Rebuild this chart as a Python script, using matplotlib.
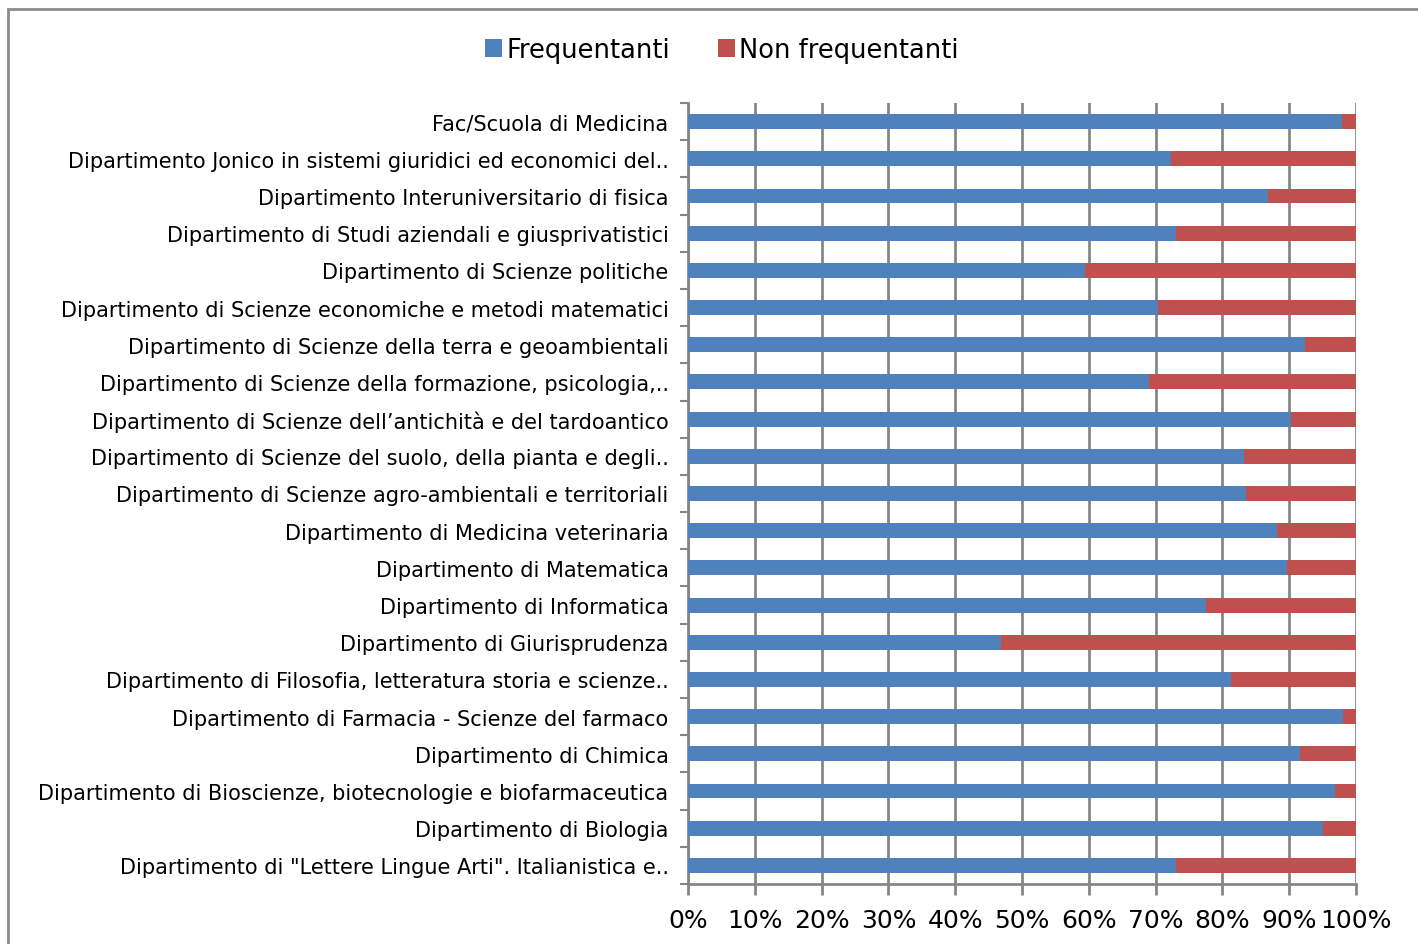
import matplotlib
matplotlib.use("Agg")
import matplotlib.pyplot as plt
from matplotlib.patches import Rectangle
from matplotlib.ticker import FixedLocator, PercentFormatter
import numpy as np

plt.rcParams['font.family'] = ['DejaVu Sans']

# categories from bottom to top (as drawn)
categories = [
    'Dipartimento di "Lettere Lingue Arti". Italianistica e..',
    'Dipartimento di Biologia',
    'Dipartimento di Bioscienze, biotecnologie e biofarmaceutica',
    'Dipartimento di Chimica',
    'Dipartimento di Farmacia - Scienze del farmaco',
    'Dipartimento di Filosofia, letteratura storia e scienze..',
    'Dipartimento di Giurisprudenza',
    'Dipartimento di Informatica',
    'Dipartimento di Matematica',
    'Dipartimento di Medicina veterinaria',
    'Dipartimento di Scienze agro-ambientali e territoriali',
    'Dipartimento di Scienze del suolo, della pianta e degli..',
    "Dipartimento di Scienze dell\u2019antichità e del tardoantico",
    'Dipartimento di Scienze della formazione, psicologia,..',
    'Dipartimento di Scienze della terra e geoambientali',
    'Dipartimento di Scienze economiche e metodi matematici',
    'Dipartimento di Scienze politiche',
    'Dipartimento di Studi aziendali e giusprivatistici',
    'Dipartimento Interuniversitario di fisica',
    'Dipartimento Jonico in sistemi giuridici ed economici del..',
    'Fac/Scuola di Medicina',
]

frequentanti = [73.0, 95.1, 96.8, 91.6, 98.1, 81.3, 46.8, 77.6, 89.7, 88.2,
                83.6, 83.2, 90.3, 69.0, 92.4, 70.3, 59.5, 73.0, 86.8, 72.3, 97.9]
non_frequentanti = [100 - v for v in frequentanti]

blue = '#4F81BD'
red = '#C0504D'
grid_col = '#868686'

fig = plt.figure(figsize=(14.18, 9.45), dpi=100)
fig.patches.append(Rectangle((8 / 1418, -0.1), 1.2, 1 - 10 / 945 + 0.1,
                             transform=fig.transFigure, fill=False,
                             edgecolor='#8C8C8C', linewidth=2))

ax = fig.add_axes([688 / 1418, 60 / 945, 668 / 1418, 781 / 945])
y = np.arange(len(categories))
ax.barh(y, frequentanti, height=0.4, color=blue, label='Frequentanti', zorder=3)
ax.barh(y, non_frequentanti, height=0.4, left=frequentanti, color=red,
        label='Non frequentanti', zorder=3)

ax.set_xlim(0, 100)
ax.set_ylim(-0.5, len(categories) - 0.5)
ax.xaxis.set_major_locator(FixedLocator(np.arange(0, 101, 10)))
ax.xaxis.set_major_formatter(PercentFormatter(decimals=0))
ax.grid(axis='x', color=grid_col, linewidth=2, zorder=0)
ax.set_axisbelow(True)

ax.set_yticks(y)
ax.set_yticklabels(categories, fontsize=15)
ax.yaxis.set_minor_locator(FixedLocator(np.arange(-0.5, len(categories), 1)))
ax.tick_params(axis='y', which='major', length=0, pad=14)
ax.tick_params(axis='y', which='minor', length=6, width=1.5, color=grid_col)
ax.tick_params(axis='x', length=8, width=2, color=grid_col, labelsize=18, pad=9)

for s in ['top', 'right']:
    ax.spines[s].set_visible(False)
for s in ['left', 'bottom']:
    ax.spines[s].set_color(grid_col)
    ax.spines[s].set_linewidth(2)

fig.legend(loc='center', bbox_to_anchor=(722 / 1418, 1 - 51 / 945), ncol=2,
           frameon=False, fontsize=18.5, handlelength=0.65, handleheight=0.65,
           handletextpad=0.15, columnspacing=1.9)

fig.savefig('out.png', dpi=100)
